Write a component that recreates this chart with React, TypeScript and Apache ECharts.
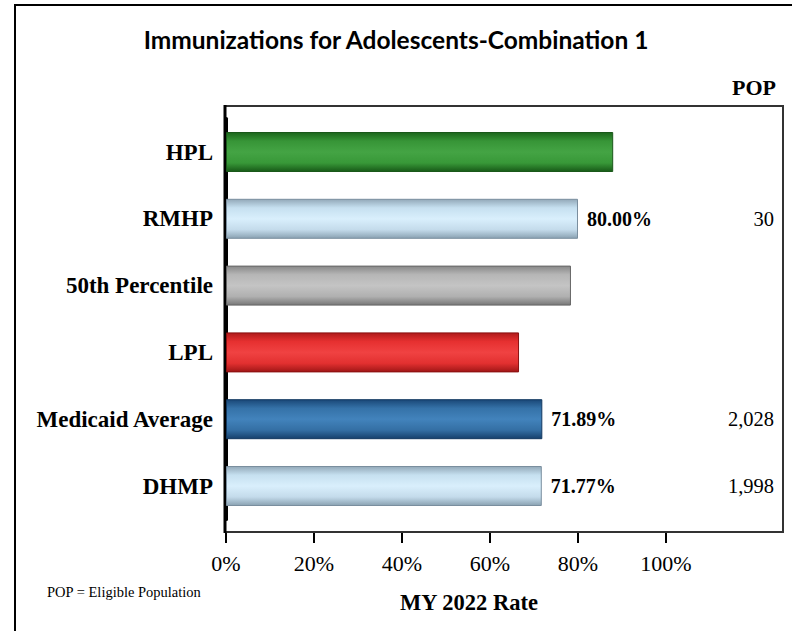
import React, { useEffect, useRef } from 'react';
import * as echarts from 'echarts';

const categories = ['HPL', 'RMHP', '50th Percentile', 'LPL', 'Medicaid Average', 'DHMP'];
const rates = [88.0, 80.0, 78.4, 66.6, 71.89, 71.77];
const rateLabels = ['', '80.00%', '', '', '71.89%', '71.77%'];
const popValues = ['', '30', '', '', '2,028', '1,998'];
const xTicks = [0, 20, 40, 60, 80, 100];

const SERIF = 'Times New Roman, Liberation Serif, serif';

const barStyles: Record<string, { stops: string[]; border: string }> = {
  HPL: { stops: ['#1c661c', '#379537', '#44a444', '#389838', '#185a18'], border: '#1a581a' },
  RMHP: { stops: ['#93a9b9', '#c6e0f0', '#d9effc', '#c4dbeb', '#8aa2b2'], border: '#7a8e9e' },
  '50th Percentile': { stops: ['#888888', '#b6b6b6', '#c4c4c4', '#b0b0b0', '#777777'], border: '#666666' },
  LPL: { stops: ['#b01a1a', '#e63030', '#f04242', '#e23030', '#a01616'], border: '#8a1010' },
  'Medicaid Average': { stops: ['#1a4878', '#3572a8', '#4283bc', '#346fa4', '#16406c'], border: '#123860' },
  DHMP: { stops: ['#93a9b9', '#c6e0f0', '#d9effc', '#c4dbeb', '#8aa2b2'], border: '#7a8e9e' },
};

function gradient(stops: string[]) {
  return new echarts.graphic.LinearGradient(0, 0, 0, 1, [
    { offset: 0, color: stops[0] },
    { offset: 0.22, color: stops[1] },
    { offset: 0.5, color: stops[2] },
    { offset: 0.78, color: stops[3] },
    { offset: 1, color: stops[4] },
  ]);
}

export default function App() {
  const ref = useRef<HTMLDivElement>(null);
  useEffect(() => {
    if (!ref.current) return;
    const chart = echarts.init(ref.current, undefined, { renderer: 'svg' });
    const gridLeft = 226;
    const gridRight = 9;
    const gridTop = 118.6;
    const gridHeight = 400.8;
    const xMax = (792 - gridRight - gridLeft) / 4.4;
    chart.setOption({
      animation: false,
      backgroundColor: '#ffffff',
      title: {
        text: 'Immunizations for Adolescents-Combination 1',
        left: 'center',
        top: 22,
        textStyle: { fontFamily: 'Lato', fontWeight: 'bold', fontSize: 24.5, color: '#000' },
      },
      grid: { left: gridLeft, right: gridRight, top: gridTop, height: gridHeight },
      xAxis: {
        type: 'value',
        min: 0,
        max: xMax,
        interval: 20,
        offset: 12.6,
        name: 'MY 2022 Rate',
        nameLocation: 'middle',
        nameGap: 59,
        nameTextStyle: { fontFamily: SERIF, fontWeight: 'bold', fontSize: 22.5, color: '#000', padding: [0, 0, 0, -71] },
        axisLine: { show: true, lineStyle: { color: '#000', width: 2 } },
        axisTick: { show: true, customValues: xTicks, length: 11, lineStyle: { color: '#000', width: 2 } },
        axisLabel: {
          customValues: xTicks,
          formatter: '{value}%',
          margin: 20,
          fontFamily: SERIF,
          fontSize: 22,
          color: '#000',
        },
        splitLine: { show: false },
      },
      yAxis: [
        {
          type: 'category',
          data: categories,
          inverse: true,
          axisLine: { show: true, lineStyle: { color: '#000', width: 3 } },
          axisTick: { show: false },
          axisLabel: { margin: 13, fontFamily: SERIF, fontWeight: 'bold', fontSize: 23, color: '#000' },
        },
        {
          type: 'category',
          data: popValues,
          inverse: true,
          position: 'right',
          axisLine: { show: false },
          axisTick: { show: false },
          axisLabel: { align: 'right', margin: -9, fontFamily: SERIF, fontSize: 20.5, color: '#000' },
        },
      ],
      graphic: [
        { type: 'rect', shape: { x: 15, y: 5, width: 800, height: 700 }, style: { fill: 'none', stroke: '#000', lineWidth: 2 }, z: 0 },
        { type: 'rect', shape: { x: 225, y: 106, width: 558, height: 426 }, style: { fill: 'none', stroke: '#333', lineWidth: 2 }, z: 1 },
        { type: 'line', shape: { x1: 225, y1: 105, x2: 225, y2: 533 }, style: { stroke: '#000', lineWidth: 3 }, z: 2 },
        { type: 'text', x: 776, y: 87, style: { text: 'POP', fontFamily: SERIF, fontWeight: 'bold', fontSize: 22, fill: '#000', textAlign: 'right', textVerticalAlign: 'middle' } },
        { type: 'text', x: 47, y: 592, style: { text: 'POP = Eligible Population', fontFamily: SERIF, fontSize: 14.5, fill: '#000', textAlign: 'left', textVerticalAlign: 'middle' } },
      ],
      series: [
        {
          type: 'bar',
          barWidth: 40,
          data: rates.map((v, i) => {
            const s = barStyles[categories[i]];
            return {
              value: v,
              itemStyle: { color: gradient(s.stops), borderColor: s.border, borderWidth: 1 },
              label: {
                show: rateLabels[i] !== '',
                position: 'right',
                distance: 9,
                formatter: () => rateLabels[i],
                fontFamily: SERIF,
                fontWeight: 'bold',
                fontSize: 20,
                color: '#000',
              },
            };
          }),
        },
      ],
    });
    return () => chart.dispose();
  }, []);
  return <div ref={ref} style={{ position: 'fixed', left: 0, top: 0, width: 792, height: 631 }} />;
}
